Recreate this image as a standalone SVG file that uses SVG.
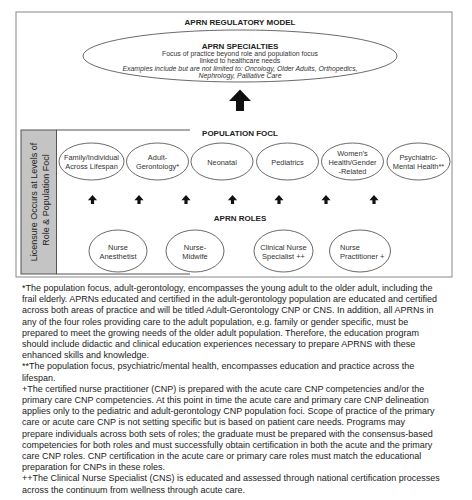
<svg xmlns="http://www.w3.org/2000/svg" width="472" height="500" viewBox="0 0 472 500">
<style>
text{font-family:"Liberation Sans",Arial,sans-serif;fill:#222}
.h{font-weight:bold;font-size:8px;text-anchor:middle}
.s{font-size:6.9px;text-anchor:middle;fill:#333}
.i{font-style:italic}
.n{font-size:7.4px;text-anchor:middle;fill:#333}
.r{font-size:7.5px;text-anchor:middle;fill:#333}
.f{font-size:9px;fill:#222}
.v{font-size:9px;text-anchor:middle;fill:#222}
.el{fill:#fff;stroke:#444;stroke-width:0.8}
.ln{stroke:#555;stroke-width:1;fill:none}
</style>
<defs>
<path id="sa" d="M0,0 L4.6,5.2 L1.6,5.2 L1.6,9 L-1.6,9 L-1.6,5.2 L-4.6,5.2 Z" fill="#111"/>
</defs>
<rect width="472" height="500" fill="#fff"/>
<rect x="16" y="12" width="436" height="265" fill="#fff" stroke="#888" stroke-width="1"/>
<text class="h" x="240" y="25">APRN REGULATORY MODEL</text>
<g id="specialties">
<ellipse class="el" cx="240" cy="56" rx="157" ry="26"/>
<text class="h" x="240" y="48.5">APRN SPECIALTIES</text>
<text class="s" x="240" y="56">Focus of practice beyond role and population focus</text>
<text class="s" x="240" y="63">linked to healthcare needs</text>
<text class="s i" x="240" y="70.5">Examples include but are not limited to: Oncology, Older Adults, Orthopedics,</text>
<text class="s i" x="240" y="78">Nephrology, Palliative Care</text>
</g>
<g id="licensure">
<rect x="21" y="130" width="35.5" height="144" fill="#c4c4c4" stroke="#555" stroke-width="1"/>
<text class="v" transform="rotate(-90 37 202)" x="37" y="202">Licensure Occurs at Levels of</text>
<text class="v" transform="rotate(-90 48.5 200)" x="48.5" y="200">Role &amp; Population Focl</text>
</g>
<g id="connectors">
<path class="ln" d="M56.5,130 H190 M56.5,274 H190"/>
<path d="M240,89.5 L251,101 L244,101 L244,111 L236,111 L236,101 L229,101 Z" fill="#111"/>
<use href="#sa" x="92.5" y="195"/>
<use href="#sa" x="139" y="195"/>
<use href="#sa" x="186" y="195"/>
<use href="#sa" x="232.5" y="195"/>
<use href="#sa" x="279" y="195"/>
<use href="#sa" x="326" y="195"/>
<use href="#sa" x="374" y="195"/>
</g>
<text class="h" x="240" y="136">POPULATION FOCL</text>
<g id="pop-family">
<ellipse class="el" cx="91.5" cy="161.5" rx="32.5" ry="18.5"/>
<text class="n" x="91.5" y="160">Family/Individual</text>
<text class="n" x="91.5" y="169">Across Lifespan</text>
</g>
<g id="pop-adult">
<ellipse class="el" cx="157.5" cy="161.5" rx="31" ry="18.5"/>
<text class="n" x="157.5" y="160">Adult-</text>
<text class="n" x="157.5" y="169">Gerontology*</text>
</g>
<g id="pop-neonatal">
<ellipse class="el" cx="222" cy="161.5" rx="31" ry="18.5"/>
<text class="n" x="222" y="164.5">Neonatal</text>
</g>
<g id="pop-pediatrics">
<ellipse class="el" cx="287.5" cy="161.5" rx="31" ry="18.5"/>
<text class="n" x="287.5" y="164.5">Pediatrics</text>
</g>
<g id="pop-women">
<ellipse class="el" cx="352.5" cy="161.5" rx="31" ry="18.5"/>
<text class="n" x="352.5" y="156">Women’s</text>
<text class="n" x="352.5" y="165">Health/Gender</text>
<text class="n" x="352.5" y="174">-Related</text>
</g>
<g id="pop-psych">
<ellipse class="el" cx="418.5" cy="161.5" rx="31.5" ry="18.5"/>
<text class="n" x="418.5" y="160">Psychiatric-</text>
<text class="n" x="418.5" y="169">Mental Health**</text>
</g>
<text class="h" x="240" y="221">APRN ROLES</text>
<g id="role-anesthetist">
<ellipse class="el" cx="118" cy="251" rx="29" ry="21"/>
<text class="r" x="118" y="250">Nurse</text>
<text class="r" x="118" y="259">Anesthetist</text>
</g>
<g id="role-midwife">
<ellipse class="el" cx="195" cy="251" rx="29" ry="21"/>
<text class="r" x="195" y="250">Nurse-</text>
<text class="r" x="195" y="259">Midwife</text>
</g>
<g id="role-cns">
<ellipse class="el" cx="283.5" cy="251" rx="29.5" ry="21"/>
<text class="r" x="283.5" y="250">Clinical Nurse</text>
<text class="r" x="283.5" y="259">Specialist ++</text>
</g>
<g id="role-np">
<ellipse class="el" cx="360" cy="251" rx="30.5" ry="21"/>
<text class="r" x="340" y="250" style="text-anchor:start">Nurse</text>
<text class="r" x="340" y="259" style="text-anchor:start">Practitioner +</text>
</g>
<g id="footnotes">
<text class="f" x="22" y="291">*The population focus, adult-gerontology, encompasses the young adult to the older adult, including the</text>
<text class="f" x="22" y="302.2">frail elderly. APRNs educated and certified in the adult-gerontology population are educated and certified</text>
<text class="f" x="22" y="313.4">across both areas of practice and will be titled Adult-Gerontology CNP or CNS. In addition, all APRNs in</text>
<text class="f" x="22" y="324.6">any of the four roles providing care to the adult population, e.g. family or gender specific, must be</text>
<text class="f" x="22" y="335.8">prepared to meet the growing needs of the older adult population. Therefore, the education program</text>
<text class="f" x="22" y="347">should include didactic and clinical education experiences necessary to prepare APRNS with these</text>
<text class="f" x="22" y="358.2">enhanced skills and knowledge.</text>
<text class="f" x="22" y="369.4">**The population focus, psychiatric/mental health, encompasses education and practice across the</text>
<text class="f" x="22" y="380.6">lifespan.</text>
<text class="f" x="22" y="391.8">+The certified nurse practitioner (CNP) is prepared with the acute care CNP competencies and/or the</text>
<text class="f" x="22" y="403">primary care CNP competencies. At this point in time the acute care and primary care CNP delineation</text>
<text class="f" x="22" y="414.2">applies only to the pediatric and adult-gerontology CNP population foci. Scope of practice of the primary</text>
<text class="f" x="22" y="425.4">care or acute care CNP is not setting specific but is based on patient care needs. Programs may</text>
<text class="f" x="22" y="436.6">prepare individuals across both sets of roles; the graduate must be prepared with the consensus-based</text>
<text class="f" x="22" y="447.8">competencies for both roles and must successfully obtain certification in both the acute and the primary</text>
<text class="f" x="22" y="459">care CNP roles. CNP certification in the acute care or primary care roles must match the educational</text>
<text class="f" x="22" y="470.2">preparation for CNPs in these roles.</text>
<text class="f" x="22" y="481.4">++The Clinical Nurse Specialist (CNS) is educated and assessed through national certification processes</text>
<text class="f" x="22" y="492.6">across the continuum from wellness through acute care.</text>
</g>
</svg>
